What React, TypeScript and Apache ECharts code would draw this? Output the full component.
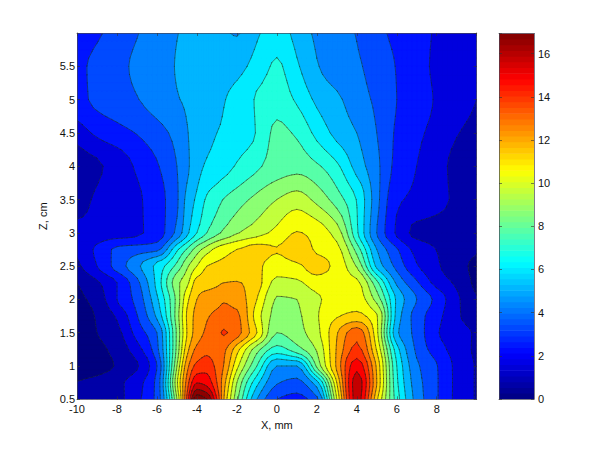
import React, { useEffect, useRef } from "react";
import * as echarts from "echarts";

// Sample positions of the measured field
const xs = [-10,-9,-8,-7,-6,-5,-4.5,-4,-3.5,-3,-2.65,-2,-1,0,1,2,3,4,5,6,7,8,9,10];
const zs = [0.5,0.75,1,1.25,1.5,1.75,2,2.25,2.5,2.75,3,3.5,4,4.5,5,5.5,6];

// Field values in contour-band units, one list per Z row
const row050 = [0.2,0.35,0.7,1.75,3.3,10,15.2,19.8,19.05,16,13,9.3,5,3,2.6,3.7,11,17.5,12.2,7.5,4.6,3.1,1.75,0.9];
const row075 = [0.05,0.3,0.75,1.6,3.3,10.8,14.4,16.95,16.6,15,13.4,10,6.3,4.1,3.7,5.6,12,17.5,13,7.2,4.45,3.1,1.75,0.9];
const row100 = [-0.85,-0.45,0.1,0.9,3,10,13.6,15.3,15.6,14.7,13.95,11.3,8,5,5,9.2,13.2,16.6,12.8,7,4.2,3.05,1.75,0.9];
const row125 = [-0.9,-0.3,0.35,1.6,3.7,9.3,12.6,14.25,14.7,14.5,14.2,12.4,9.4,7.6,8.6,10.1,13.1,15.3,11.9,6.4,3.8,2.5,1.55,0.8];
const row150 = [-0.75,0,0.7,2.4,4,9.2,12,13.5,14.2,14.75,15.08,14.4,12,9,9.6,10.7,12.9,14.6,11.3,5.2,3.65,2.1,1.45,0.85];
const row175 = [-0.6,0.1,1.15,2.95,5.2,9.5,12.1,13.35,13.9,14.2,14.3,14.2,11.5,9.7,9.85,10.9,11.9,12.3,11.1,5.6,3.55,2.35,1.2,0.3];
const row200 = [-0.3,0.4,2,3.35,5.8,9.35,11.7,13,13.5,13.7,13.9,13.6,12,9.9,10,10.85,11.35,11.5,9.6,5.8,4,2.7,1.2,0.1];
const row225 = [0,0.85,2,3.7,6.3,9.7,10.7,12.4,12.55,12.8,13,13.05,12.4,10.7,10.8,11.5,11.4,11.2,8.3,4.8,3.15,1.65,0.8,-0.3];
const row250 = [0.75,2,3.4,4.75,6.3,8.3,9.8,11,12,12.2,12.3,12.45,12.2,11.5,11.8,12.4,11.65,9.9,5.75,3.7,2.1,1.15,0.4,-0.3];
const row275 = [1.15,2.2,3.2,3.5,3.75,6.8,8.1,9.5,10.5,11.3,11.6,12,12.35,12.05,12.55,11.85,11.3,8.6,5,3.1,1.65,0.98,0.55,0.1];
const row300 = [1.25,1.35,1.55,1.85,2.45,4.3,5.75,7,8,8.75,9.2,9.9,10.6,11.3,12.05,11.6,10.55,7.2,4,1.85,0.75,0.65,0.5,0.2];
const row350 = [0.55,1.15,1.5,1.85,2.55,3.85,5.3,6.2,7.15,7.65,8.05,8.55,9.3,10,10.5,9.7,8.5,6.95,4.35,2.2,1.75,1.3,0.85,0.6];
const row400 = [0.45,0.85,1.4,2.15,2.9,4,4.8,5.6,6.15,6.4,6.6,7.1,7.8,8.5,8.65,8.15,7.2,5.6,4.25,2.7,2,1.35,0.75,0.45];
const row450 = [1.45,2.2,2.65,3.05,3.6,4.35,4.95,5.3,5.7,6,6.15,6.5,7.05,8.25,7.85,6.7,5.7,5,4,2.85,2.2,1.7,1.05,0.75];
const row500 = [2.7,3.2,3.55,3.95,4.45,4.95,5.1,5.3,5.5,5.7,5.95,6.3,7.1,7.55,6.85,5.8,5.2,4.45,3.8,3,2.45,1.9,1.4,1];
const row550 = [2.75,3.25,3.7,4.2,4.6,5.05,5.2,5.35,5.45,5.55,5.6,5.7,6.4,7.15,6.15,5.08,4.5,4.15,3.55,2.95,2.3,1.85,1.5,1.2];
const row600 = [2.3,2.85,3.38,3.95,4.47,4.98,5.1,5.25,5.2,5.15,5.1,4.92,5.85,6.5,5.65,4.82,4.4,3.95,3.28,2.75,2.3,1.9,1.5,1.2];

const field = [row050,row075,row100,row125,row150,row175,row200,row225,row250,row275,row300,row350,row400,row450,row500,row550,row600];

const bands = [-1,0,1,2,3,4,5,6,7,8,9,10,11,12,13,14,15,16,17,18,19];
const contourLevels = [0,1,2,3,4,5,6,7,8,9,10,11,12,13,14,15,16,17,18,19];
const colorbarSteps = Array.from({ length: 64 }, (_, i) => i);
const colorbarMax = 16.93;

const FONT = "Liberation Sans";
const SUBDIV = 4;

function jet(t: number) {
  const c = (v: number) => Math.round(255 * Math.max(0, Math.min(1, v)));
  const u = Math.max(0, Math.min(1, t));
  return `rgb(${c(1.5 - Math.abs(4 * u - 3))},${c(1.5 - Math.abs(4 * u - 2))},${c(1.5 - Math.abs(4 * u - 1))})`;
}
const bandColor = (k: number) => jet(0.04 + 0.0525 * k);

// Contour smoothing at drawing time: a monotone cubic through the read values,
// so that no contour peak appears that is not in the field.
function refineAxis(a: number[]) {
  const out: number[] = [];
  for (let i = 0; i < a.length - 1; i++) {
    for (let s = 0; s < SUBDIV; s++) out.push(a[i] + ((a[i + 1] - a[i]) * s) / SUBDIV);
  }
  out.push(a[a.length - 1]);
  return out;
}

function refineLine(a: number[], v: number[]) {
  const n = a.length;
  const slope: number[] = [];
  for (let i = 0; i < n - 1; i++) slope.push((v[i + 1] - v[i]) / (a[i + 1] - a[i]));
  const m: number[] = new Array(n).fill(0);
  m[0] = slope[0];
  m[n - 1] = slope[n - 2];
  for (let i = 1; i < n - 1; i++) {
    if (slope[i - 1] * slope[i] > 0) {
      const h0 = a[i] - a[i - 1];
      const h1 = a[i + 1] - a[i];
      const w0 = 2 * h1 + h0;
      const w1 = h1 + 2 * h0;
      m[i] = (w0 + w1) / (w0 / slope[i - 1] + w1 / slope[i]);
    }
  }
  const out: number[] = [];
  for (let i = 0; i < n - 1; i++) {
    const h = a[i + 1] - a[i];
    for (let s = 0; s < SUBDIV; s++) {
      const t = s / SUBDIV;
      const t2 = t * t;
      const t3 = t2 * t;
      out.push(
        (2 * t3 - 3 * t2 + 1) * v[i] + (t3 - 2 * t2 + t) * h * m[i] + (-2 * t3 + 3 * t2) * v[i + 1] + (t3 - t2) * h * m[i + 1]
      );
    }
  }
  out.push(v[n - 1]);
  return out;
}

const fineXs = refineAxis(xs);
const fineZs = refineAxis(zs);
const fineField: number[][] = (() => {
  const byRow = field.map((r) => refineLine(xs, r));
  const cols = fineXs.map((_, i) => refineLine(zs, byRow.map((r) => r[i])));
  return fineZs.map((_, j) => cols.map((c) => c[j]));
})();

type P = [number, number, number];

function clip(poly: P[], level: number, keepAbove: boolean): P[] {
  const out: P[] = [];
  const inside = (p: P) => (keepAbove ? p[2] >= level : p[2] < level);
  for (let i = 0; i < poly.length; i++) {
    const a = poly[i];
    const b = poly[(i + 1) % poly.length];
    if (inside(a)) out.push(a);
    if (inside(a) !== inside(b)) {
      const s = (level - a[2]) / (b[2] - a[2]);
      out.push([a[0] + s * (b[0] - a[0]), a[1] + s * (b[1] - a[1]), level]);
    }
  }
  return out;
}

function cell(i: number, j: number): P[] {
  return [
    [fineXs[i], fineZs[j], fineField[j][i]],
    [fineXs[i + 1], fineZs[j], fineField[j][i + 1]],
    [fineXs[i + 1], fineZs[j + 1], fineField[j + 1][i + 1]],
    [fineXs[i], fineZs[j + 1], fineField[j + 1][i]],
  ];
}

function bandPath(k: number, api: any) {
  const parts: string[] = [];
  for (let j = 0; j < fineZs.length - 1; j++) {
    for (let i = 0; i < fineXs.length - 1; i++) {
      let poly = cell(i, j);
      if (k > bands[0]) poly = clip(poly, k, true);
      if (poly.length && k < bands[bands.length - 1]) poly = clip(poly, k + 1, false);
      if (poly.length < 3) continue;
      let d = "";
      poly.forEach((p, n) => {
        const c = api.coord([p[0], p[1]]);
        d += `${n ? "L" : "M"}${c[0].toFixed(1)} ${c[1].toFixed(1)}`;
      });
      parts.push(d + "Z");
    }
  }
  return parts.join("");
}

function contourPath(level: number, api: any) {
  const parts: string[] = [];
  for (let j = 0; j < fineZs.length - 1; j++) {
    for (let i = 0; i < fineXs.length - 1; i++) {
      const q = cell(i, j);
      const hits: number[][] = [];
      for (let n = 0; n < 4; n++) {
        const a = q[n];
        const b = q[(n + 1) % 4];
        if (a[2] >= level !== b[2] >= level) {
          const s = (level - a[2]) / (b[2] - a[2]);
          hits.push(api.coord([a[0] + s * (b[0] - a[0]), a[1] + s * (b[1] - a[1])]));
        }
      }
      for (let n = 0; n + 1 < hits.length; n += 2) {
        parts.push(`M${hits[n][0].toFixed(1)} ${hits[n][1].toFixed(1)}L${hits[n + 1][0].toFixed(1)} ${hits[n + 1][1].toFixed(1)}`);
      }
    }
  }
  return parts.join("");
}

const tickStyle = { show: true, inside: true, length: 3, lineStyle: { color: "#333", width: 0.6 } };
const lineStyle = { show: true, onZero: false, lineStyle: { color: "#445", width: 0.7 } };
const labelStyle = { color: "#111", fontFamily: FONT, fontSize: 11 };

export default function App() {
  const ref = useRef<HTMLDivElement>(null);
  useEffect(() => {
    const chart = echarts.init(ref.current!, null, { renderer: "svg" });
    const option: any = {
      animation: false,
      backgroundColor: "#fff",
      grid: [
        { left: 77, top: 33, width: 399.7, height: 366.3 },
        { left: 499, top: 33.5, width: 35, height: 365.5 },
      ],
      xAxis: [
        {
          gridIndex: 0, type: "value", min: -10, max: 10, interval: 2, position: "bottom", z: 5,
          axisLine: lineStyle, axisTick: tickStyle, splitLine: { show: false },
          axisLabel: { ...labelStyle, margin: 4, showMaxLabel: false },
          name: "X, mm", nameLocation: "middle", nameGap: 17,
          nameTextStyle: { color: "#111", fontFamily: FONT, fontSize: 11 },
        },
        {
          gridIndex: 0, type: "value", min: -10, max: 10, interval: 2, position: "top", z: 5,
          axisLine: lineStyle, axisTick: tickStyle, splitLine: { show: false }, axisLabel: { show: false },
        },
        {
          gridIndex: 1, type: "value", min: 0, max: 1, position: "bottom", z: 5,
          axisLine: lineStyle, axisTick: { show: false }, splitLine: { show: false }, axisLabel: { show: false },
        },
        {
          gridIndex: 1, type: "value", min: 0, max: 1, position: "top", z: 5,
          axisLine: lineStyle, axisTick: { show: false }, splitLine: { show: false }, axisLabel: { show: false },
        },
      ],
      yAxis: [
        {
          gridIndex: 0, type: "value", min: 0.5, max: 6, interval: 0.5, position: "left", z: 5,
          axisLine: lineStyle, axisTick: tickStyle, splitLine: { show: false },
          axisLabel: { ...labelStyle, margin: 2, showMaxLabel: false },
          name: "Z, cm", nameLocation: "middle", nameGap: 15,
          nameTextStyle: { color: "#111", fontFamily: FONT, fontSize: 11 },
        },
        {
          gridIndex: 0, type: "value", min: 0.5, max: 6, interval: 0.5, position: "right", z: 5,
          axisLine: lineStyle, axisTick: tickStyle, splitLine: { show: false }, axisLabel: { show: false },
        },
        {
          gridIndex: 1, type: "value", min: 0, max: colorbarMax, interval: 2, position: "right", z: 5,
          axisLine: lineStyle, axisTick: tickStyle, splitLine: { show: false },
          axisLabel: { ...labelStyle, margin: 4, showMaxLabel: false },
        },
        {
          gridIndex: 1, type: "value", min: 0, max: colorbarMax, interval: 2, position: "left", z: 5,
          axisLine: lineStyle, axisTick: tickStyle, splitLine: { show: false }, axisLabel: { show: false },
        },
      ],
      series: [
        {
          type: "custom", coordinateSystem: "cartesian2d", xAxisIndex: 0, yAxisIndex: 0, clip: true, silent: true,
          data: bands.map((k) => [k]),
          renderItem: (params: any, api: any) => {
            const k = bands[params.dataIndex];
            const d = bandPath(k, api);
            if (!d) return null;
            const color = bandColor(k);
            return { type: "path", shape: { pathData: d }, style: { fill: color, stroke: color, lineWidth: 0.6 } };
          },
        },
        {
          type: "custom", coordinateSystem: "cartesian2d", xAxisIndex: 0, yAxisIndex: 0, clip: true, silent: true,
          data: contourLevels.map((k) => [k]),
          renderItem: (params: any, api: any) => {
            const d = contourPath(contourLevels[params.dataIndex], api);
            if (!d) return null;
            return {
              type: "path", shape: { pathData: d },
              style: { fill: "none", stroke: "rgba(20,30,30,0.75)", lineWidth: 0.7, lineCap: "round" },
            };
          },
        },
        {
          type: "custom", coordinateSystem: "cartesian2d", xAxisIndex: 2, yAxisIndex: 2, clip: true, silent: true,
          data: colorbarSteps.map((i) => [i]),
          renderItem: (params: any, api: any) => {
            const i = colorbarSteps[params.dataIndex];
            const n = colorbarSteps.length;
            const a = api.coord([0, (i / n) * colorbarMax]);
            const b = api.coord([1, ((i + 1) / n) * colorbarMax]);
            return {
              type: "rect",
              shape: { x: a[0], y: b[1] - 0.3, width: b[0] - a[0], height: a[1] - b[1] + 0.6 },
              style: { fill: jet((i + 0.5) / n) },
            };
          },
        },
      ],
    };
    chart.setOption(option);
    return () => chart.dispose();
  }, []);
  return <div ref={ref} style={{ position: "fixed", left: 0, top: 0, width: 600, height: 449, background: "#fff" }} />;
}
